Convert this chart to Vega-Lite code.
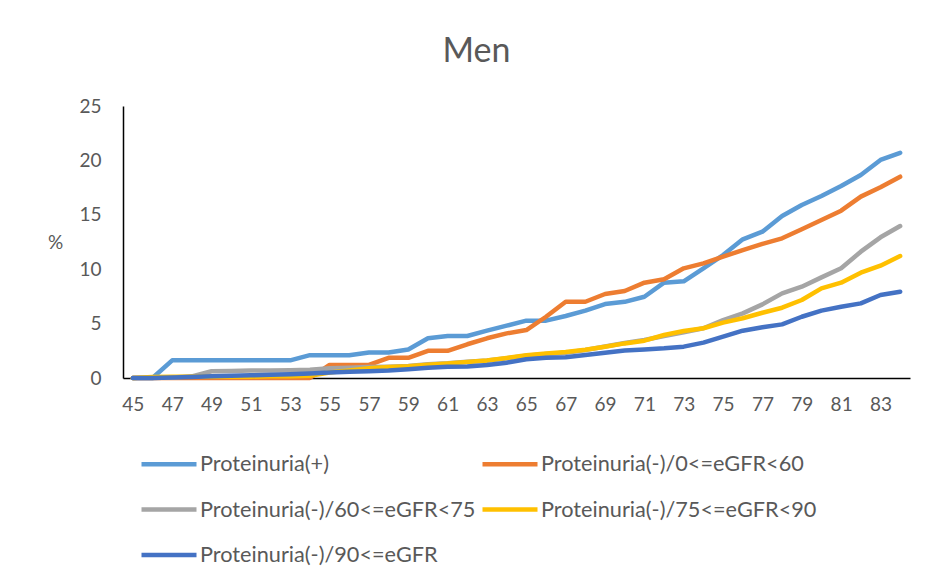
{
  "$schema": "https://vega.github.io/schema/vega-lite/v6.json",
  "width": 787,
  "height": 272,
  "autosize": {"type": "none"},
  "padding": {"left": 123, "top": 106, "right": 25, "bottom": 208},
  "background": "white",
  "config": {"view": {"stroke": null}, "font": "Lato"},
  "title": {"text": "Men", "fontSize": 34, "font": "Lato", "fontWeight": "normal", "color": "#595959", "anchor": "middle", "dx": -40, "offset": 28},
  "data": {"values": [
    {"age":45,"series":"Proteinuria(+)","pct":0},
    {"age":46,"series":"Proteinuria(+)","pct":0},
    {"age":47,"series":"Proteinuria(+)","pct":1.62},
    {"age":48,"series":"Proteinuria(+)","pct":1.62},
    {"age":49,"series":"Proteinuria(+)","pct":1.62},
    {"age":50,"series":"Proteinuria(+)","pct":1.62},
    {"age":51,"series":"Proteinuria(+)","pct":1.62},
    {"age":52,"series":"Proteinuria(+)","pct":1.62},
    {"age":53,"series":"Proteinuria(+)","pct":1.62},
    {"age":54,"series":"Proteinuria(+)","pct":2.1},
    {"age":55,"series":"Proteinuria(+)","pct":2.1},
    {"age":56,"series":"Proteinuria(+)","pct":2.1},
    {"age":57,"series":"Proteinuria(+)","pct":2.35},
    {"age":58,"series":"Proteinuria(+)","pct":2.35},
    {"age":59,"series":"Proteinuria(+)","pct":2.62},
    {"age":60,"series":"Proteinuria(+)","pct":3.65},
    {"age":61,"series":"Proteinuria(+)","pct":3.86},
    {"age":62,"series":"Proteinuria(+)","pct":3.86},
    {"age":63,"series":"Proteinuria(+)","pct":4.35},
    {"age":64,"series":"Proteinuria(+)","pct":4.81},
    {"age":65,"series":"Proteinuria(+)","pct":5.27},
    {"age":66,"series":"Proteinuria(+)","pct":5.27},
    {"age":67,"series":"Proteinuria(+)","pct":5.7},
    {"age":68,"series":"Proteinuria(+)","pct":6.19},
    {"age":69,"series":"Proteinuria(+)","pct":6.8},
    {"age":70,"series":"Proteinuria(+)","pct":7.0},
    {"age":71,"series":"Proteinuria(+)","pct":7.47},
    {"age":72,"series":"Proteinuria(+)","pct":8.76},
    {"age":73,"series":"Proteinuria(+)","pct":8.89},
    {"age":74,"series":"Proteinuria(+)","pct":10.08},
    {"age":75,"series":"Proteinuria(+)","pct":11.3},
    {"age":76,"series":"Proteinuria(+)","pct":12.75},
    {"age":77,"series":"Proteinuria(+)","pct":13.45},
    {"age":78,"series":"Proteinuria(+)","pct":14.89},
    {"age":79,"series":"Proteinuria(+)","pct":15.9},
    {"age":80,"series":"Proteinuria(+)","pct":16.73},
    {"age":81,"series":"Proteinuria(+)","pct":17.65},
    {"age":82,"series":"Proteinuria(+)","pct":18.66},
    {"age":83,"series":"Proteinuria(+)","pct":20.04},
    {"age":84,"series":"Proteinuria(+)","pct":20.7},
    {"age":45,"series":"Proteinuria(-)/0<=eGFR<60","pct":0},
    {"age":46,"series":"Proteinuria(-)/0<=eGFR<60","pct":0},
    {"age":47,"series":"Proteinuria(-)/0<=eGFR<60","pct":0},
    {"age":48,"series":"Proteinuria(-)/0<=eGFR<60","pct":0},
    {"age":49,"series":"Proteinuria(-)/0<=eGFR<60","pct":0},
    {"age":50,"series":"Proteinuria(-)/0<=eGFR<60","pct":0},
    {"age":51,"series":"Proteinuria(-)/0<=eGFR<60","pct":0},
    {"age":52,"series":"Proteinuria(-)/0<=eGFR<60","pct":0},
    {"age":53,"series":"Proteinuria(-)/0<=eGFR<60","pct":0},
    {"age":54,"series":"Proteinuria(-)/0<=eGFR<60","pct":0},
    {"age":55,"series":"Proteinuria(-)/0<=eGFR<60","pct":1.2},
    {"age":56,"series":"Proteinuria(-)/0<=eGFR<60","pct":1.2},
    {"age":57,"series":"Proteinuria(-)/0<=eGFR<60","pct":1.2},
    {"age":58,"series":"Proteinuria(-)/0<=eGFR<60","pct":1.85},
    {"age":59,"series":"Proteinuria(-)/0<=eGFR<60","pct":1.85},
    {"age":60,"series":"Proteinuria(-)/0<=eGFR<60","pct":2.5},
    {"age":61,"series":"Proteinuria(-)/0<=eGFR<60","pct":2.5},
    {"age":62,"series":"Proteinuria(-)/0<=eGFR<60","pct":3.1},
    {"age":63,"series":"Proteinuria(-)/0<=eGFR<60","pct":3.65},
    {"age":64,"series":"Proteinuria(-)/0<=eGFR<60","pct":4.1},
    {"age":65,"series":"Proteinuria(-)/0<=eGFR<60","pct":4.41},
    {"age":66,"series":"Proteinuria(-)/0<=eGFR<60","pct":5.63},
    {"age":67,"series":"Proteinuria(-)/0<=eGFR<60","pct":7.01},
    {"age":68,"series":"Proteinuria(-)/0<=eGFR<60","pct":7.01},
    {"age":69,"series":"Proteinuria(-)/0<=eGFR<60","pct":7.72},
    {"age":70,"series":"Proteinuria(-)/0<=eGFR<60","pct":8.0},
    {"age":71,"series":"Proteinuria(-)/0<=eGFR<60","pct":8.76},
    {"age":72,"series":"Proteinuria(-)/0<=eGFR<60","pct":9.07},
    {"age":73,"series":"Proteinuria(-)/0<=eGFR<60","pct":10.08},
    {"age":74,"series":"Proteinuria(-)/0<=eGFR<60","pct":10.54},
    {"age":75,"series":"Proteinuria(-)/0<=eGFR<60","pct":11.15},
    {"age":76,"series":"Proteinuria(-)/0<=eGFR<60","pct":11.76},
    {"age":77,"series":"Proteinuria(-)/0<=eGFR<60","pct":12.32},
    {"age":78,"series":"Proteinuria(-)/0<=eGFR<60","pct":12.84},
    {"age":79,"series":"Proteinuria(-)/0<=eGFR<60","pct":13.67},
    {"age":80,"series":"Proteinuria(-)/0<=eGFR<60","pct":14.52},
    {"age":81,"series":"Proteinuria(-)/0<=eGFR<60","pct":15.38},
    {"age":82,"series":"Proteinuria(-)/0<=eGFR<60","pct":16.67},
    {"age":83,"series":"Proteinuria(-)/0<=eGFR<60","pct":17.53},
    {"age":84,"series":"Proteinuria(-)/0<=eGFR<60","pct":18.5},
    {"age":45,"series":"Proteinuria(-)/60<=eGFR<75","pct":0},
    {"age":46,"series":"Proteinuria(-)/60<=eGFR<75","pct":0},
    {"age":47,"series":"Proteinuria(-)/60<=eGFR<75","pct":0.05},
    {"age":48,"series":"Proteinuria(-)/60<=eGFR<75","pct":0.15},
    {"age":49,"series":"Proteinuria(-)/60<=eGFR<75","pct":0.62},
    {"age":50,"series":"Proteinuria(-)/60<=eGFR<75","pct":0.65},
    {"age":51,"series":"Proteinuria(-)/60<=eGFR<75","pct":0.68},
    {"age":52,"series":"Proteinuria(-)/60<=eGFR<75","pct":0.7},
    {"age":53,"series":"Proteinuria(-)/60<=eGFR<75","pct":0.72},
    {"age":54,"series":"Proteinuria(-)/60<=eGFR<75","pct":0.75},
    {"age":55,"series":"Proteinuria(-)/60<=eGFR<75","pct":0.9},
    {"age":56,"series":"Proteinuria(-)/60<=eGFR<75","pct":0.95},
    {"age":57,"series":"Proteinuria(-)/60<=eGFR<75","pct":1.0},
    {"age":58,"series":"Proteinuria(-)/60<=eGFR<75","pct":1.04},
    {"age":59,"series":"Proteinuria(-)/60<=eGFR<75","pct":1.1},
    {"age":60,"series":"Proteinuria(-)/60<=eGFR<75","pct":1.26},
    {"age":61,"series":"Proteinuria(-)/60<=eGFR<75","pct":1.35},
    {"age":62,"series":"Proteinuria(-)/60<=eGFR<75","pct":1.5},
    {"age":63,"series":"Proteinuria(-)/60<=eGFR<75","pct":1.6},
    {"age":64,"series":"Proteinuria(-)/60<=eGFR<75","pct":1.81},
    {"age":65,"series":"Proteinuria(-)/60<=eGFR<75","pct":2.05},
    {"age":66,"series":"Proteinuria(-)/60<=eGFR<75","pct":2.2},
    {"age":67,"series":"Proteinuria(-)/60<=eGFR<75","pct":2.33},
    {"age":68,"series":"Proteinuria(-)/60<=eGFR<75","pct":2.57},
    {"age":69,"series":"Proteinuria(-)/60<=eGFR<75","pct":2.9},
    {"age":70,"series":"Proteinuria(-)/60<=eGFR<75","pct":3.22},
    {"age":71,"series":"Proteinuria(-)/60<=eGFR<75","pct":3.49},
    {"age":72,"series":"Proteinuria(-)/60<=eGFR<75","pct":3.86},
    {"age":73,"series":"Proteinuria(-)/60<=eGFR<75","pct":4.2},
    {"age":74,"series":"Proteinuria(-)/60<=eGFR<75","pct":4.57},
    {"age":75,"series":"Proteinuria(-)/60<=eGFR<75","pct":5.33},
    {"age":76,"series":"Proteinuria(-)/60<=eGFR<75","pct":5.94},
    {"age":77,"series":"Proteinuria(-)/60<=eGFR<75","pct":6.77},
    {"age":78,"series":"Proteinuria(-)/60<=eGFR<75","pct":7.78},
    {"age":79,"series":"Proteinuria(-)/60<=eGFR<75","pct":8.39},
    {"age":80,"series":"Proteinuria(-)/60<=eGFR<75","pct":9.25},
    {"age":81,"series":"Proteinuria(-)/60<=eGFR<75","pct":10.08},
    {"age":82,"series":"Proteinuria(-)/60<=eGFR<75","pct":11.61},
    {"age":83,"series":"Proteinuria(-)/60<=eGFR<75","pct":12.93},
    {"age":84,"series":"Proteinuria(-)/60<=eGFR<75","pct":13.97},
    {"age":45,"series":"Proteinuria(-)/75<=eGFR<90","pct":0},
    {"age":46,"series":"Proteinuria(-)/75<=eGFR<90","pct":0.1},
    {"age":47,"series":"Proteinuria(-)/75<=eGFR<90","pct":0.12},
    {"age":48,"series":"Proteinuria(-)/75<=eGFR<90","pct":0.12},
    {"age":49,"series":"Proteinuria(-)/75<=eGFR<90","pct":0.12},
    {"age":50,"series":"Proteinuria(-)/75<=eGFR<90","pct":0.12},
    {"age":51,"series":"Proteinuria(-)/75<=eGFR<90","pct":0.12},
    {"age":52,"series":"Proteinuria(-)/75<=eGFR<90","pct":0.15},
    {"age":53,"series":"Proteinuria(-)/75<=eGFR<90","pct":0.15},
    {"age":54,"series":"Proteinuria(-)/75<=eGFR<90","pct":0.2},
    {"age":55,"series":"Proteinuria(-)/75<=eGFR<90","pct":0.5},
    {"age":56,"series":"Proteinuria(-)/75<=eGFR<90","pct":0.7},
    {"age":57,"series":"Proteinuria(-)/75<=eGFR<90","pct":0.9},
    {"age":58,"series":"Proteinuria(-)/75<=eGFR<90","pct":1.0},
    {"age":59,"series":"Proteinuria(-)/75<=eGFR<90","pct":1.08},
    {"age":60,"series":"Proteinuria(-)/75<=eGFR<90","pct":1.22},
    {"age":61,"series":"Proteinuria(-)/75<=eGFR<90","pct":1.33},
    {"age":62,"series":"Proteinuria(-)/75<=eGFR<90","pct":1.47},
    {"age":63,"series":"Proteinuria(-)/75<=eGFR<90","pct":1.6},
    {"age":64,"series":"Proteinuria(-)/75<=eGFR<90","pct":1.84},
    {"age":65,"series":"Proteinuria(-)/75<=eGFR<90","pct":2.1},
    {"age":66,"series":"Proteinuria(-)/75<=eGFR<90","pct":2.25},
    {"age":67,"series":"Proteinuria(-)/75<=eGFR<90","pct":2.38},
    {"age":68,"series":"Proteinuria(-)/75<=eGFR<90","pct":2.6},
    {"age":69,"series":"Proteinuria(-)/75<=eGFR<90","pct":2.88},
    {"age":70,"series":"Proteinuria(-)/75<=eGFR<90","pct":3.18},
    {"age":71,"series":"Proteinuria(-)/75<=eGFR<90","pct":3.43},
    {"age":72,"series":"Proteinuria(-)/75<=eGFR<90","pct":3.95},
    {"age":73,"series":"Proteinuria(-)/75<=eGFR<90","pct":4.32},
    {"age":74,"series":"Proteinuria(-)/75<=eGFR<90","pct":4.57},
    {"age":75,"series":"Proteinuria(-)/75<=eGFR<90","pct":5.09},
    {"age":76,"series":"Proteinuria(-)/75<=eGFR<90","pct":5.49},
    {"age":77,"series":"Proteinuria(-)/75<=eGFR<90","pct":6.0},
    {"age":78,"series":"Proteinuria(-)/75<=eGFR<90","pct":6.46},
    {"age":79,"series":"Proteinuria(-)/75<=eGFR<90","pct":7.17},
    {"age":80,"series":"Proteinuria(-)/75<=eGFR<90","pct":8.24},
    {"age":81,"series":"Proteinuria(-)/75<=eGFR<90","pct":8.76},
    {"age":82,"series":"Proteinuria(-)/75<=eGFR<90","pct":9.68},
    {"age":83,"series":"Proteinuria(-)/75<=eGFR<90","pct":10.32},
    {"age":84,"series":"Proteinuria(-)/75<=eGFR<90","pct":11.21},
    {"age":45,"series":"Proteinuria(-)/90<=eGFR","pct":0},
    {"age":46,"series":"Proteinuria(-)/90<=eGFR","pct":0},
    {"age":47,"series":"Proteinuria(-)/90<=eGFR","pct":0.05},
    {"age":48,"series":"Proteinuria(-)/90<=eGFR","pct":0.1},
    {"age":49,"series":"Proteinuria(-)/90<=eGFR","pct":0.15},
    {"age":50,"series":"Proteinuria(-)/90<=eGFR","pct":0.2},
    {"age":51,"series":"Proteinuria(-)/90<=eGFR","pct":0.25},
    {"age":52,"series":"Proteinuria(-)/90<=eGFR","pct":0.3},
    {"age":53,"series":"Proteinuria(-)/90<=eGFR","pct":0.35},
    {"age":54,"series":"Proteinuria(-)/90<=eGFR","pct":0.42},
    {"age":55,"series":"Proteinuria(-)/90<=eGFR","pct":0.5},
    {"age":56,"series":"Proteinuria(-)/90<=eGFR","pct":0.57},
    {"age":57,"series":"Proteinuria(-)/90<=eGFR","pct":0.62},
    {"age":58,"series":"Proteinuria(-)/90<=eGFR","pct":0.68},
    {"age":59,"series":"Proteinuria(-)/90<=eGFR","pct":0.8},
    {"age":60,"series":"Proteinuria(-)/90<=eGFR","pct":0.95},
    {"age":61,"series":"Proteinuria(-)/90<=eGFR","pct":1.04},
    {"age":62,"series":"Proteinuria(-)/90<=eGFR","pct":1.05},
    {"age":63,"series":"Proteinuria(-)/90<=eGFR","pct":1.19},
    {"age":64,"series":"Proteinuria(-)/90<=eGFR","pct":1.41},
    {"age":65,"series":"Proteinuria(-)/90<=eGFR","pct":1.72},
    {"age":66,"series":"Proteinuria(-)/90<=eGFR","pct":1.87},
    {"age":67,"series":"Proteinuria(-)/90<=eGFR","pct":1.9},
    {"age":68,"series":"Proteinuria(-)/90<=eGFR","pct":2.11},
    {"age":69,"series":"Proteinuria(-)/90<=eGFR","pct":2.33},
    {"age":70,"series":"Proteinuria(-)/90<=eGFR","pct":2.52},
    {"age":71,"series":"Proteinuria(-)/90<=eGFR","pct":2.63},
    {"age":72,"series":"Proteinuria(-)/90<=eGFR","pct":2.73},
    {"age":73,"series":"Proteinuria(-)/90<=eGFR","pct":2.88},
    {"age":74,"series":"Proteinuria(-)/90<=eGFR","pct":3.25},
    {"age":75,"series":"Proteinuria(-)/90<=eGFR","pct":3.8},
    {"age":76,"series":"Proteinuria(-)/90<=eGFR","pct":4.35},
    {"age":77,"series":"Proteinuria(-)/90<=eGFR","pct":4.66},
    {"age":78,"series":"Proteinuria(-)/90<=eGFR","pct":4.93},
    {"age":79,"series":"Proteinuria(-)/90<=eGFR","pct":5.63},
    {"age":80,"series":"Proteinuria(-)/90<=eGFR","pct":6.19},
    {"age":81,"series":"Proteinuria(-)/90<=eGFR","pct":6.55},
    {"age":82,"series":"Proteinuria(-)/90<=eGFR","pct":6.86},
    {"age":83,"series":"Proteinuria(-)/90<=eGFR","pct":7.63},
    {"age":84,"series":"Proteinuria(-)/90<=eGFR","pct":7.93}
  ]},
  "mark": {"type": "line", "strokeWidth": 4.5, "strokeCap": "round", "strokeJoin": "round"},
  "encoding": {
    "x": {
      "field": "age", "type": "quantitative",
      "scale": {"domain": [44.5, 84.5], "nice": false, "zero": false},
      "axis": {"values": [45,47,49,51,53,55,57,59,61,63,65,67,69,71,73,75,77,79,81,83], "grid": false, "ticks": false, "domainColor": "#000000", "domainWidth": 1.5, "labelFontSize": 19, "labelColor": "#595959", "labelPadding": 17, "labelFlush": false, "title": null, "labelFont": "Lato"}
    },
    "y": {
      "field": "pct", "type": "quantitative",
      "scale": {"domain": [0, 25], "nice": false},
      "axis": {"values": [0,5,10,15,20,25], "grid": false, "ticks": false, "domainColor": "#000000", "domainWidth": 1.5, "labelFontSize": 19, "labelColor": "#595959", "labelPadding": 22, "labelFont": "Lato", "title": "%", "titleAngle": 0, "titleX": -68, "titleY": 136, "titleAlign": "center", "titleBaseline": "middle", "titleFontSize": 19, "titleFontWeight": "normal", "titleColor": "#595959", "titleFont": "Lato"}
    },
    "color": {
      "field": "series", "type": "nominal",
      "scale": {
        "domain": ["Proteinuria(+)", "Proteinuria(-)/60<=eGFR<75", "Proteinuria(-)/90<=eGFR", "Proteinuria(-)/0<=eGFR<60", "Proteinuria(-)/75<=eGFR<90"],
        "range": ["#5B9BD5", "#A5A5A5", "#4472C4", "#ED7D31", "#FFC000"]
      },
      "legend": {
        "title": null, "orient": "none", "legendX": 16, "legendY": 328,
        "columns": 2, "symbolType": "stroke", "symbolSize": 3025, "symbolStrokeWidth": 4.5,
        "labelFontSize": 21.7, "labelFont": "Lato", "labelColor": "#595959", "labelOffset": 1,
        "rowPadding": 3.5, "columnPadding": -3, "labelLimit": 400
      }
    }
  }
}
